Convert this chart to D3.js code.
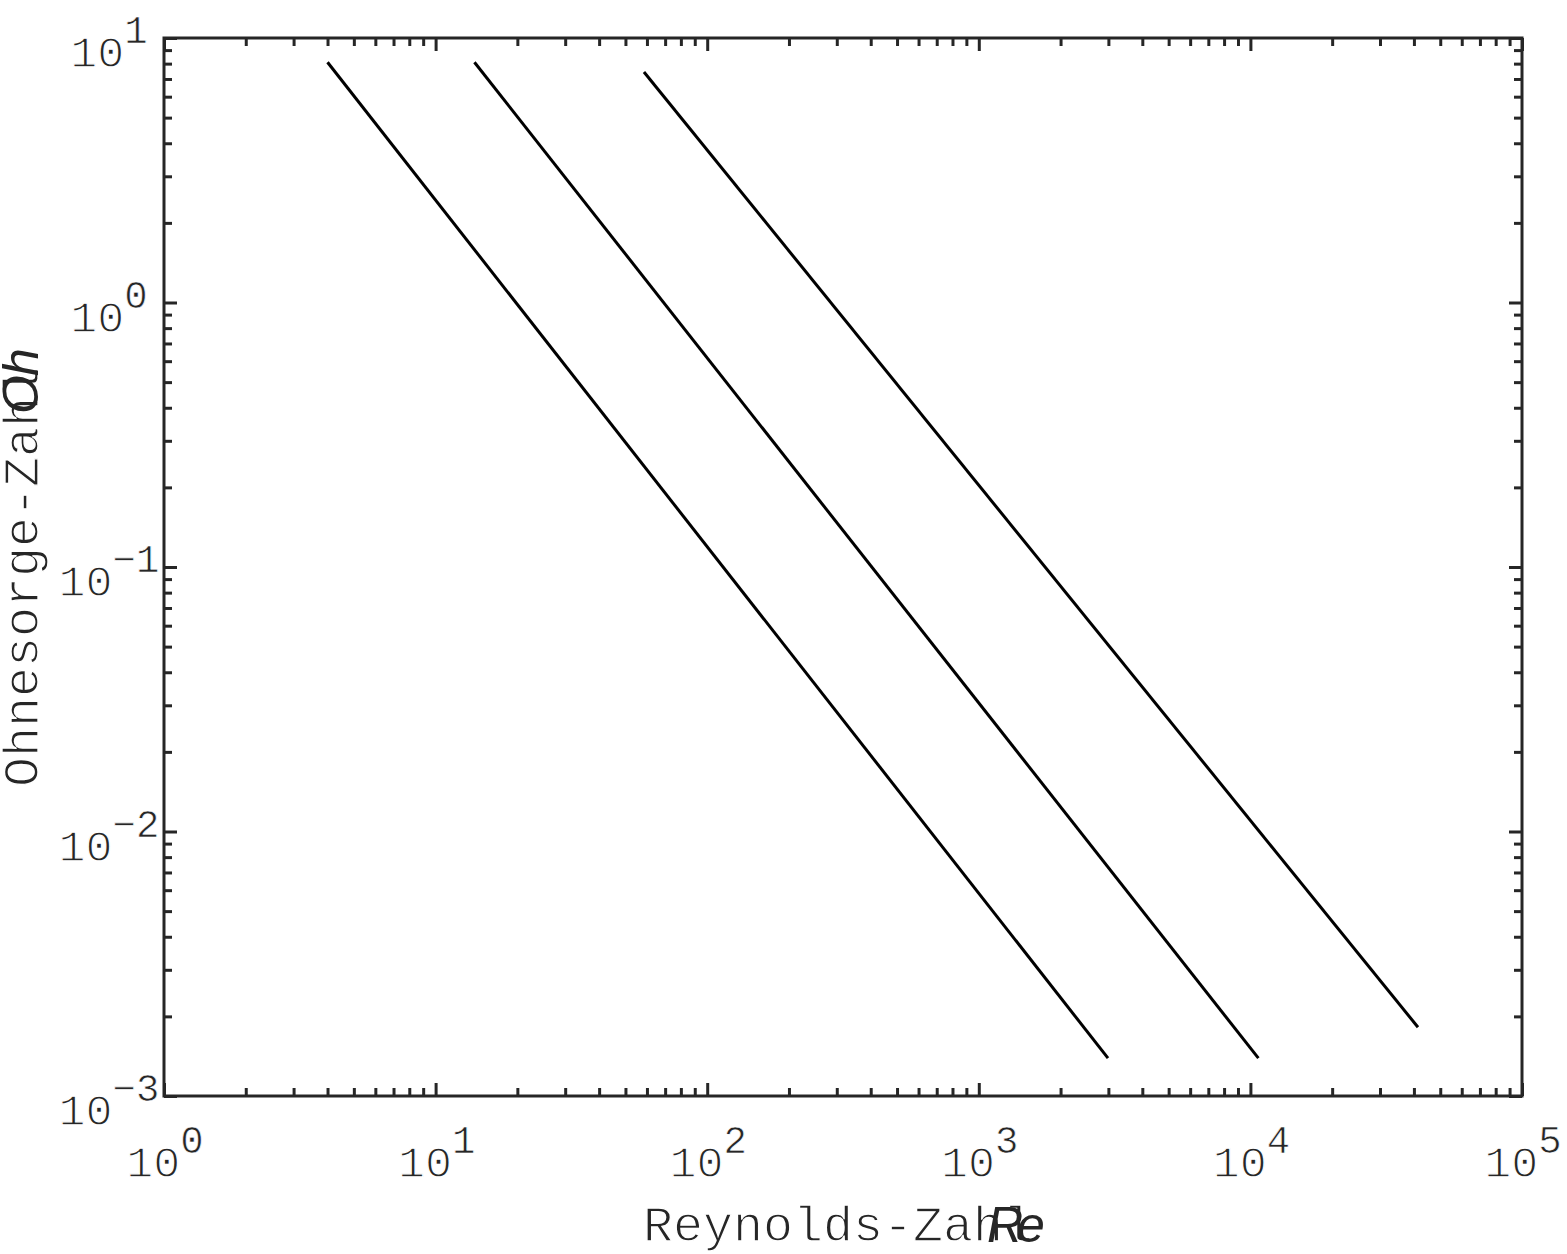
<!DOCTYPE html>
<html>
<head>
<meta charset="utf-8">
<script src="https://cdn.jsdelivr.net/npm/d3@7"></script>
<style>
  html, body { margin: 0; padding: 0; background: #fff; }
  svg { display: block; }
  .thin { stroke: #fff; stroke-width: 1.3px; }
  .sup { stroke: #fff; stroke-width: 0.7px; }
</style>
</head>
<body>
<svg id="chart" width="1567" height="1254"></svg>
<script>
// ---- data ----
const xDecades = [0, 1, 2, 3, 4, 5];          // Re = 10^k
const yDecades = [-3, -2, -1, 0, 1];          // Oh = 10^k
const line1Re = [4.0, 2990];
const line1Oh = [8.1, 0.00139];
const line2Re = [13.9, 10700];
const line2Oh = [8.1, 0.00139];
const line3Re = [58.5, 41400];
const line3Oh = [7.44, 0.00182];
const xLabelText = "Reynolds-Zahl";
const xLabelSym = "Re";
const yLabelText = "Ohnesorge-Zahl";
const yLabelSym = "Oh";

// ---- layout ----
const L = 164, R = 1522, T = 38, B = 1096;
const axisColor = "#262626";
const monoFont = "'Liberation Mono', 'Courier New', monospace";
const sansFont = "'Liberation Sans', Arial, sans-serif";

const x = d3.scaleLog().domain([1, 1e5]).range([L, R]);
const y = d3.scaleLog().domain([1e-3, 1e1]).range([B, T]);

const svg = d3.select("#chart");

const majorX = xDecades.map(k => Math.pow(10, k));
const majorY = yDecades.map(k => Math.pow(10, k));
function minors(decs) {
  const out = [];
  for (let i = 0; i < decs.length - 1; i++)
    for (let m = 2; m <= 9; m++) out.push(m * Math.pow(10, decs[i]));
  return out;
}
const minorX = minors(xDecades);
const minorY = minors(yDecades);

function drawAxis(gen, transform) {
  const g = svg.append("g").attr("transform", transform).call(gen);
  g.select(".domain").remove();
  g.selectAll(".tick text").remove();
  g.selectAll(".tick line").attr("stroke", axisColor).attr("stroke-width", 3);
}
drawAxis(d3.axisBottom(x).tickValues(majorX).tickSize(-13), `translate(0,${B})`);
drawAxis(d3.axisBottom(x).tickValues(minorX).tickSize(-8), `translate(0,${B})`);
drawAxis(d3.axisTop(x).tickValues(majorX).tickSize(-13), `translate(0,${T})`);
drawAxis(d3.axisTop(x).tickValues(minorX).tickSize(-8), `translate(0,${T})`);
drawAxis(d3.axisLeft(y).tickValues(majorY).tickSize(-13), `translate(${L},0)`);
drawAxis(d3.axisLeft(y).tickValues(minorY).tickSize(-8), `translate(${L},0)`);
drawAxis(d3.axisRight(y).tickValues(majorY).tickSize(-13), `translate(${R},0)`);
drawAxis(d3.axisRight(y).tickValues(minorY).tickSize(-8), `translate(${R},0)`);

svg.append("rect")
  .attr("x", L).attr("y", T).attr("width", R - L).attr("height", B - T)
  .attr("fill", "none").attr("stroke", axisColor).attr("stroke-width", 3);

// tick labels
function powLabel(sel, k) {
  sel.append("tspan").attr("class", "thin").text("10");
  sel.append("tspan").attr("class", "sup").attr("dy", -24).attr("font-size", 39)
    .text(k < 0 ? "\u2212" + Math.abs(k) : String(k));
}
xDecades.forEach(k => {
  const t = svg.append("text")
    .attr("x", x(Math.pow(10, k)) + 1).attr("y", 1177)
    .attr("text-anchor", "middle")
    .attr("font-family", monoFont).attr("font-size", 45)
    .attr("fill", axisColor);
  powLabel(t, k);
});
yDecades.forEach(k => {
  const t = svg.append("text")
    .attr("x", 109).attr("y", y(Math.pow(10, k)) + 29)
    .attr("text-anchor", "middle")
    .attr("font-family", monoFont).attr("font-size", 45)
    .attr("fill", axisColor);
  powLabel(t, k);
});

// data lines
const series = [
  [line1Re, line1Oh],
  [line2Re, line2Oh],
  [line3Re, line3Oh]
];
const lineGen = d3.line().x(d => x(d[0])).y(d => y(d[1]));
series.forEach(([re, oh]) => {
  svg.append("path")
    .datum(re.map((r, i) => [r, oh[i]]))
    .attr("d", lineGen)
    .attr("fill", "none").attr("stroke", "#000").attr("stroke-width", 3);
});

// axis labels
svg.append("text").attr("class", "thin")
  .attr("x", 643).attr("y", 1241)
  .attr("font-family", monoFont).attr("font-size", 50)
  .attr("fill", axisColor).text(xLabelText);
svg.append("text")
  .attr("x", 987).attr("y", 1242)
  .attr("font-family", sansFont).attr("font-style", "italic").attr("font-size", 50)
  .attr("letter-spacing", -6)
  .attr("fill", axisColor).text(xLabelSym);

svg.append("text").attr("class", "thin")
  .attr("transform", "translate(38,787) rotate(-90)")
  .attr("font-family", monoFont).attr("font-size", 50)
  .attr("fill", axisColor).text(yLabelText);
svg.append("text")
  .attr("transform", "translate(38,414) rotate(-90)")
  .attr("font-family", sansFont).attr("font-style", "italic").attr("font-size", 50)
  .attr("letter-spacing", -1)
  .attr("fill", axisColor).text(yLabelSym);
</script>
</body>
</html>
